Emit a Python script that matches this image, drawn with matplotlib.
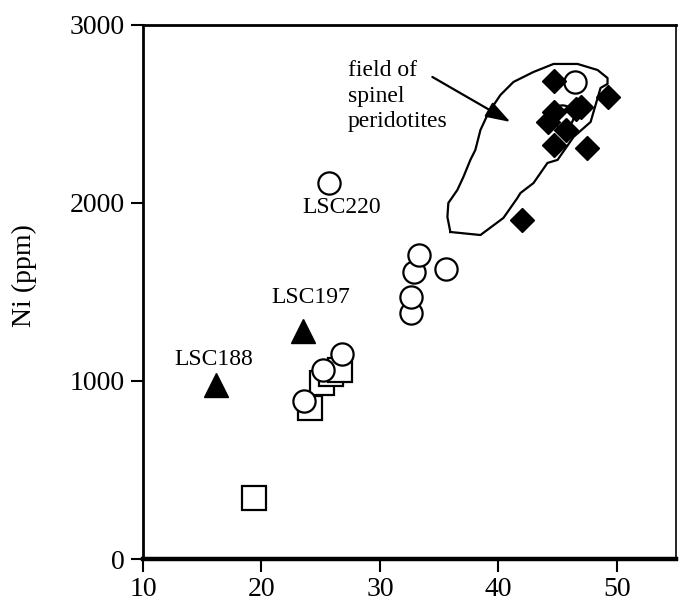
import numpy as np
import matplotlib
matplotlib.use("Agg")
import matplotlib.pyplot as plt

plt.rcParams['font.family'] = ['Liberation Serif', 'DejaVu Serif']

# open squares
sq_x = [19.4, 24.1, 25.1, 25.9, 26.6]
sq_ni = [340, 850, 990, 1040, 1060]

# open circles
ci_x = [23.6, 25.2, 26.8, 25.7, 32.65, 32.65, 32.9, 33.3, 35.6, 45.4, 46.5]
ci_ni = [890, 1060, 1150, 2110, 1380, 1470, 1610, 1710, 1630, 2490, 2680]

# filled triangles
tr_x = [16.2, 23.5]
tr_ni = [980, 1280]

# filled diamonds
di_x = [42.0, 44.7, 44.7, 44.2, 45.7, 44.7, 47.0, 46.6, 49.3, 47.5]
di_ni = [1905, 2685, 2510, 2455, 2410, 2326, 2540, 2530, 2596, 2309]

# outline of the spinel peridotite field
field_x = [35.95, 35.70, 35.78, 36.54, 37.05, 37.64, 38.06, 38.49, 39.16, 40.18,
           41.28, 42.97, 44.66, 46.69, 48.38, 49.22, 49.22, 48.63, 47.79, 46.35,
           45.0, 44.15, 42.97, 41.87, 41.61, 40.43, 38.49, 35.95]
field_ni = [1837, 1921, 2000, 2073, 2146, 2242, 2298, 2410, 2506, 2607,
            2680, 2736, 2781, 2781, 2747, 2702, 2669, 2646, 2455, 2371,
            2242, 2225, 2112, 2056, 2028, 1916, 1820, 1837]

sample_names = ['LSC188', 'LSC197', 'LSC220']
sample_x = [16.2, 23.5, 25.7]
sample_ni = [980, 1280, 2110]

fig = plt.figure(figsize=(6.8, 6.12), dpi=100)
ax = fig.add_axes([0.2103, 0.0866, 0.7838, 0.8726])

ax.plot(field_x, field_ni, color='black', lw=1.6, zorder=2)

ax.plot(sq_x, sq_ni, 's', ms=17, mfc='white', mec='black', mew=1.6, zorder=3)
ax.plot(ci_x, ci_ni, 'o', ms=16, mfc='white', mec='black', mew=1.6, zorder=4)
ax.plot(tr_x, tr_ni, '^', ms=17, color='black', zorder=4)
ax.plot(di_x, di_ni, 'D', ms=12, color='black', zorder=5)

# sample labels next to their symbols
ax.annotate(sample_names[0], (sample_x[0], sample_ni[0]), xytext=(-2, 18),
            textcoords='offset points', ha='center', va='center', fontsize=17)
ax.annotate(sample_names[1], (sample_x[1], sample_ni[1]), xytext=(6, 24),
            textcoords='offset points', ha='center', va='center', fontsize=17)
ax.annotate(sample_names[2], (sample_x[2], sample_ni[2]), xytext=(9, -17),
            textcoords='offset points', ha='center', va='center', fontsize=17)

ax.text(27.3, 2600, 'field of\nspinel\nperidotites', fontsize=17,
        ha='left', va='center', linespacing=1.3)
ax.annotate('', xy=(41.02, 2455), xytext=(34.43, 2708),
            arrowprops=dict(arrowstyle='-|>,head_length=0.6,head_width=0.2',
                            color='black', lw=1.6, mutation_scale=25,
                            shrinkA=0, shrinkB=0))

ax.set_xlim(10, 55)
ax.set_ylim(0, 3000)
ax.set_xticks([10, 20, 30, 40, 50])
ax.set_yticks([0, 1000, 2000, 3000])
ax.tick_params(direction='out', length=9, width=1.5, labelsize=20, pad=4)
ax.set_ylabel('Ni (ppm)', fontsize=20)
ax.yaxis.set_label_coords(-0.198, 0.53)

for side in ['left', 'top']:
    ax.spines[side].set_linewidth(2)
ax.spines['bottom'].set_linewidth(3.2)
ax.spines['right'].set_linewidth(1.2)

fig.savefig('out.png', dpi=100)
